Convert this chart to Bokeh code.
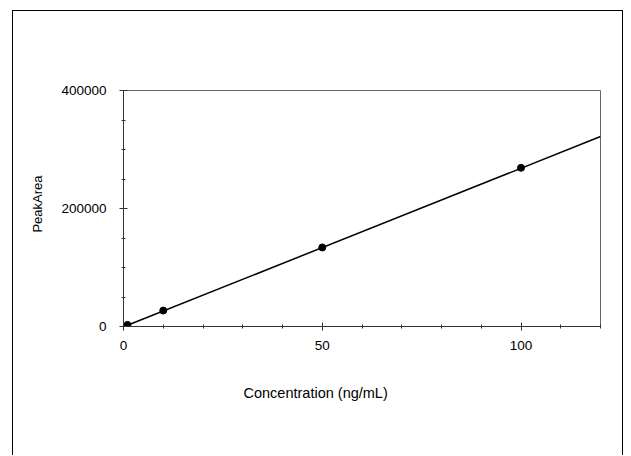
from bokeh.plotting import figure
from bokeh.models import Range1d, FixedTicker, BasicTickFormatter, Title
from bokeh.embed import file_html
from bokeh.resources import INLINE

# Data
conc = [1, 10, 50, 100]
peak_area = [2700, 27000, 134000, 269000]
fit_x = [1, 120]
fit_y = [2000, 322000]

x_ticks = [0, 50, 100]
x_minor_ticks = [10, 20, 30, 40, 60, 70, 80, 90, 110, 120]
y_ticks = [0, 200000, 400000]
y_minor_ticks = [50000, 100000, 150000, 250000, 300000, 350000]
x_title = "Concentration (ng/mL)"
y_title = "PeakArea"

FONT = "Liberation Sans"

p = figure(width=611, height=445, output_backend="svg", toolbar_location=None,
           x_range=Range1d(0, 120), y_range=Range1d(0, 400000),
           min_border_left=109, min_border_right=24, min_border_top=79,
           min_border_bottom=130)
p.margin = (10, 0, 0, 12)
p.styles = {"border-top": "1px solid #000", "border-left": "1px solid #000",
            "border-right": "1px solid #000"}

p.grid.visible = False
p.outline_line_color = "#666666"
p.outline_line_width = 1

p.line(fit_x, fit_y, line_color="black", line_width=1.5)
p.scatter(conc, peak_area, size=7, fill_color="black", line_color="black")

for ax in (p.xaxis[0], p.yaxis[0]):
    ax.axis_line_color = "#333333"
    ax.major_tick_line_color = "#333333"
    ax.minor_tick_line_color = "#333333"
    ax.major_tick_in = 4
    ax.major_tick_out = 4
    ax.minor_tick_in = 2
    ax.minor_tick_out = 2
    ax.major_label_text_font = FONT
    ax.major_label_text_font_size = "13.5px"
    ax.major_label_text_color = "black"
    ax.formatter = BasicTickFormatter(use_scientific=False)

p.xaxis[0].ticker = FixedTicker(ticks=x_ticks, minor_ticks=x_minor_ticks)
p.yaxis[0].ticker = FixedTicker(ticks=y_ticks, minor_ticks=y_minor_ticks)
p.xaxis[0].major_label_standoff = 10
p.yaxis[0].major_label_standoff = 13

xt = Title(text=x_title, align="left", offset=120, standoff=60,
           text_font=FONT, text_font_size="14.5px", text_font_style="normal",
           text_color="black")
p.add_layout(xt, "below")
yt = Title(text=y_title, align="right", offset=85, standoff=28,
           text_font=FONT, text_font_size="13px", text_font_style="normal",
           text_color="black")
p.add_layout(yt, "left")

open("out.html", "w").write(file_html(p, INLINE))
